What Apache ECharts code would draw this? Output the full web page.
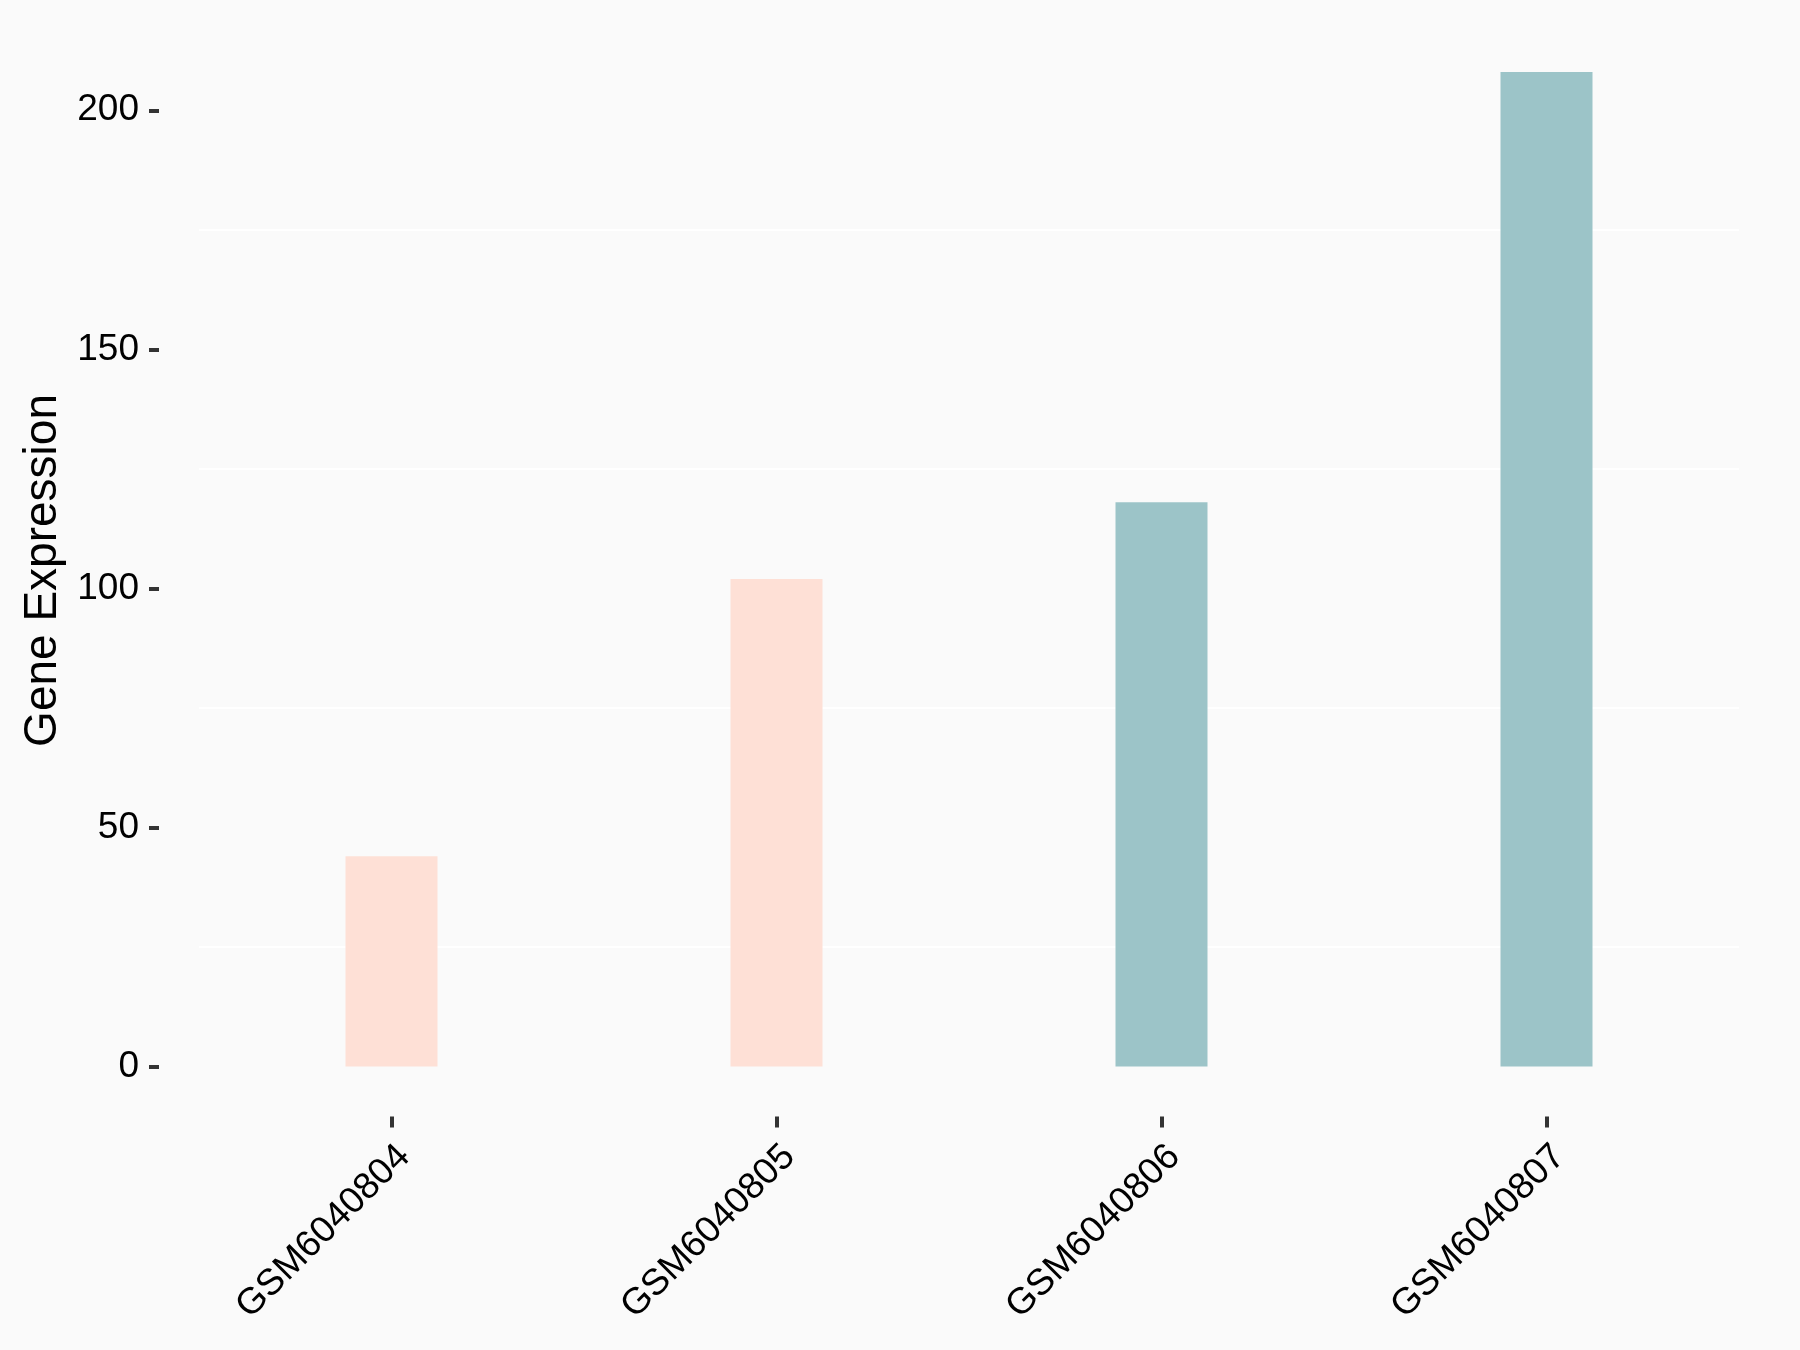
<!DOCTYPE html>
<html>
<head>
<meta charset="utf-8">
<title>Gene Expression</title>
<script src="https://cdn.jsdelivr.net/npm/echarts@6/dist/echarts.min.js"></script>
<style>
  html, body { margin: 0; padding: 0; background: #FAFAFA; }
  #chart { width: 1800px; height: 1350px; }
</style>
</head>
<body>
<div id="chart"></div>
<script>
// samples on the x axis
const samples = ['GSM6040804', 'GSM6040805', 'GSM6040806', 'GSM6040807'];
// expression value of each sample
const expression = [44, 102, 118, 208];
// group of each sample (decides the bar colour)
const groups = ['control', 'control', 'treat', 'treat'];
// y axis tick labels
const yTicks = [0, 50, 100, 150, 200];

const groupColor = { control: '#FEE0D6', treat: '#9CC4C8' };
const font = 'Liberation Sans, Arial, sans-serif';
// ggplot style panel: 5% padding above the tallest bar
const yMax = 218.4;

const chart = echarts.init(document.getElementById('chart'));
chart.setOption({
  backgroundColor: '#FAFAFA',
  animation: false,
  grid: { left: 199, right: 61, top: 22.3, bottom: 283.4 },
  xAxis: {
    type: 'category',
    data: samples,
    offset: 50,
    axisLine: { show: false, onZero: false },
    axisTick: {
      show: true,
      alignWithLabel: true,
      length: 11,
      lineStyle: { color: '#333333', width: 4 }
    },
    axisLabel: {
      rotate: 45,
      margin: 47,
      padding: [0, -18, 0, 0],
      color: '#000000',
      fontSize: 37,
      fontFamily: font
    },
    splitLine: { show: false }
  },
  yAxis: [
    {
      // only draws the light grid lines half way between the labelled ticks
      type: 'value',
      position: 'left',
      min: 0,
      max: yMax,
      interval: (yTicks[1] - yTicks[0]) / 2,
      axisLine: { show: false },
      axisTick: { show: false },
      axisLabel: { show: false },
      splitLine: {
        show: true,
        showMinLine: true,
        showMaxLine: false,
        lineStyle: { color: ['rgba(0,0,0,0)', '#FFFFFF'], width: 2 }
      }
    },
    {
      type: 'value',
      position: 'left',
      min: 0,
      max: yMax,
      offset: 40,
      name: 'Gene Expression',
      nameLocation: 'middle',
      nameRotate: 90,
      nameGap: 93,
      nameTextStyle: {
        color: '#000000',
        fontSize: 46,
        fontFamily: font,
        padding: [0, 52, 0, 0]
      },
      axisLine: { show: false },
      axisTick: {
        show: true,
        length: 10,
        customValues: yTicks,
        lineStyle: { color: '#333333', width: 4 }
      },
      axisLabel: {
        margin: 20,
        customValues: yTicks,
        color: '#000000',
        fontSize: 37,
        fontFamily: font
      },
      splitLine: { show: false }
    }
  ],
  series: [{
    type: 'bar',
    yAxisIndex: 0,
    barWidth: 92,
    data: expression.map((v, i) => ({
      value: v,
      itemStyle: { color: groupColor[groups[i]] }
    }))
  }]
});
</script>
</body>
</html>
